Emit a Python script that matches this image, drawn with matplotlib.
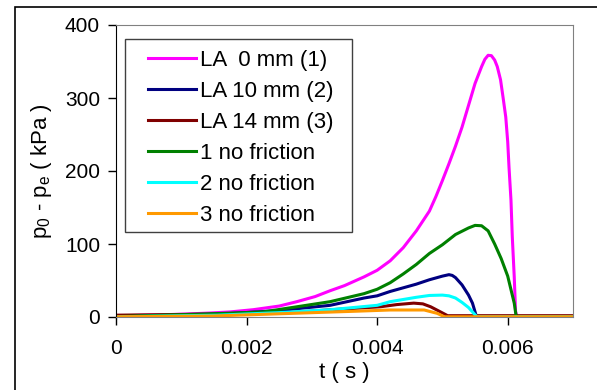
import matplotlib
matplotlib.use("Agg")
import matplotlib.pyplot as plt
from matplotlib.patches import Rectangle

plt.rcParams['font.family'] = ['Liberation Sans', 'DejaVu Sans']
plt.rcParams['mathtext.fontset'] = 'custom'
plt.rcParams['mathtext.rm'] = 'Liberation Sans'

# time (s) and pressure difference (kPa) for each run
t_la0 = [0, 0.0007, 0.00105, 0.00145, 0.00175, 0.0021, 0.0025, 0.00277, 0.00305, 0.00328,
         0.0035, 0.0038, 0.0040, 0.0042, 0.0044, 0.0046, 0.0048, 0.0049, 0.0050, 0.0051,
         0.0052, 0.0053, 0.0054, 0.0055, 0.0056, 0.00565, 0.0057, 0.00575, 0.0058, 0.00584,
         0.00589, 0.00593, 0.00597, 0.0060, 0.00602, 0.00605, 0.00607, 0.0061, 0.00612,
         0.00614, 0.007]
p_la0 = [1.5, 3, 4, 5.5, 7, 10, 15, 21, 28, 36,
         43, 55, 64, 77, 95, 118, 145, 165, 187, 210,
         234, 260, 290, 320, 343, 353, 358.5, 358, 352, 343,
         325, 300, 274, 240, 205, 160, 110, 55, 8,
         0.5, 0.5]

t_la10 = [0, 0.0013, 0.0018, 0.00252, 0.00328, 0.0038, 0.0040, 0.0042, 0.0044, 0.0046,
          0.0048, 0.0050, 0.0051, 0.00515, 0.0052, 0.0053, 0.0054, 0.00546, 0.0055, 0.00552,
          0.007]
p_la10 = [0.8, 3, 5, 9, 16, 26, 29, 35, 40, 45,
          51, 56, 58, 57, 54, 44, 30, 19, 7, 0.8,
          0.8]

t_la14 = [0, 0.0025, 0.0033, 0.00405, 0.0043, 0.00456, 0.0047, 0.00482, 0.00497, 0.00508, 0.007]
p_la14 = [2.5, 5, 10, 14, 17, 19, 18, 14, 7, 1.8, 1.8]

t_nf1 = [0, 0.00093, 0.0015, 0.00226, 0.00328, 0.0038, 0.0040, 0.0042, 0.0044, 0.0046,
         0.0048, 0.0050, 0.0052, 0.0054, 0.0055, 0.0056, 0.0057, 0.0058, 0.0059, 0.0060,
         0.0061, 0.00613, 0.007]
p_nf1 = [0.5, 3, 4.5, 7, 21, 32, 38, 47, 59, 72,
         87, 99, 113, 122, 125.5, 125, 118, 100, 80, 56,
         19, 0.5, 0.5]

t_nf2 = [0, 0.00155, 0.0025, 0.00328, 0.0040, 0.0042, 0.0044, 0.0046, 0.0048, 0.0050,
         0.0051, 0.0052, 0.0053, 0.0054, 0.00548, 0.00553, 0.007]
p_nf2 = [0.3, 2.5, 6, 10, 16, 21, 24, 27, 29.5, 30,
         29, 26, 20, 13, 5, 0.3, 0.3]

t_nf3 = [0, 0.0015, 0.00303, 0.0037, 0.0042, 0.00472, 0.00492, 0.00503, 0.007]
p_nf3 = [0.3, 1.4, 6, 8, 9.6, 9.6, 5, 0.3, 0.3]

labels = ["LA  0 mm (1)", "LA 10 mm (2)", "LA 14 mm (3)",
          "1 no friction", "2 no friction", "3 no friction"]
colors = ["#FF00FF", "#000080", "#800000", "#008000", "#00FFFF", "#FF9900"]

series = [(t_la0, p_la0), (t_la10, p_la10), (t_la14, p_la14),
          (t_nf1, p_nf1), (t_nf2, p_nf2), (t_nf3, p_nf3)]

fig = plt.figure(figsize=(5.97, 3.90), dpi=100)
ax = fig.add_axes([116 / 597, 1 - 317 / 390, 457 / 597, 292 / 390])

for (t, p), lab, col in zip(series, labels, colors):
    ax.plot(t, p, color=col, linewidth=2.2, label=lab)

ax.set_xlim(0, 0.007)
ax.set_ylim(0, 400)
ax.set_xticks([0, 0.002, 0.004, 0.006])
ax.set_xticklabels(["0", "0.002", "0.004", "0.006"])
ax.set_yticks([0, 100, 200, 300, 400])
ax.tick_params(axis='both', labelsize=15, direction='out', length=5.5, width=1)
ax.tick_params(axis='x', pad=10)
ax.tick_params(axis='y', pad=6)

for side in ['top', 'right', 'bottom']:
    ax.spines[side].set_color('#808080')
ax.spines['left'].set_color('black')

ax.set_xlabel("t ( s )", fontsize=16, labelpad=3)
ax.set_ylabel(r"p$_\mathregular{0}$ - p$_\mathregular{e}$ ( kPa )", fontsize=16, labelpad=8)

# legend text/handles, with its box drawn separately
leg = ax.legend(loc='upper left', bbox_to_anchor=((148 - 116) / 457, (317 - 50) / 292),
                borderaxespad=0, borderpad=0, frameon=False, fontsize=16,
                handlelength=2.15, handletextpad=0.2, labelspacing=0.45)
ax.add_patch(Rectangle(((125 - 116) / 457, (317 - 232) / 292), 227 / 457, 193 / 292,
                       transform=ax.transAxes, fill=False, edgecolor='#404040',
                       linewidth=1.0, zorder=5))

# outer chart-area border
fig.patches.append(Rectangle((15 / 597, -0.5), 2, 0.5 + 1 - 7 / 390, transform=fig.transFigure,
                             fill=False, edgecolor='black', linewidth=1.2))

fig.savefig("out.png", dpi=100)
